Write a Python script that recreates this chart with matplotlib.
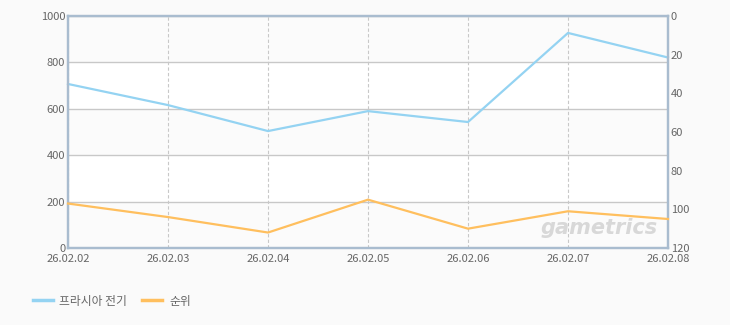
import matplotlib
matplotlib.use("Agg")
import matplotlib.pyplot as plt
from matplotlib.lines import Line2D

plt.rcParams['font.family'] = ['Noto Sans CJK KR', 'DejaVu Sans']

dates = ["26.02.02", "26.02.03", "26.02.04", "26.02.05", "26.02.06", "26.02.07", "26.02.08"]
power = [707, 616, 504, 590, 543, 927, 821]
rank = [97, 104, 112, 95, 110, 101, 105]
series_names = ["프라시아 전기", "순위"]

blue = "#94d3f2"
orange = "#ffbf5e"
spine_c = "#a9bccf"
text_c = "#666666"

fig = plt.figure(figsize=(7.3, 3.25), dpi=100, facecolor="#fafafa")
ax = fig.add_axes([68/730, 1-248/325, 600/730, 232/325])
ax.set_facecolor("#fbfbfb")
x = list(range(len(dates)))

# alternating bands
for lo in (200, 600):
    ax.axhspan(lo, lo + 200, color="white", zorder=0)

ax.set_xlim(0, len(dates) - 1)
ax.set_ylim(0, 1000)
ax.set_yticks([0, 200, 400, 600, 800, 1000])
ax.set_xticks(x)
ax.set_xticklabels(dates)
ax.grid(axis="y", color="#c8c8c8", linewidth=1, linestyle="-", zorder=1)
ax.grid(axis="x", color="#c8c8c8", linewidth=0.8, linestyle=(0, (3, 2)), zorder=1)
ax.tick_params(length=0, labelsize=8, colors=text_c, pad=2)
ax.tick_params(axis="x", pad=4)
for s in ax.spines.values():
    s.set_color(spine_c)
    s.set_linewidth(1.6)

ax.plot(x, power, color=blue, linewidth=1.6, zorder=3, clip_on=False)

ax2 = ax.twinx()
ax2.set_ylim(120, 0)
ax2.set_yticks([0, 20, 40, 60, 80, 100, 120])
ax2.tick_params(length=0, labelsize=8, colors=text_c, pad=2)
for s in ax2.spines.values():
    s.set_color(spine_c)
    s.set_linewidth(1.6)
ax2.plot(x, rank, color=orange, linewidth=1.6, zorder=3, clip_on=False)

ax2.text(0.983, 0.045, "gametrics", transform=ax2.transAxes, ha="right", va="bottom",
         fontsize=15, fontstyle="italic", fontweight="bold", color="#d2d2d2",
         family=["DejaVu Sans"], alpha=0.85, zorder=0)

handles = [Line2D([], [], color=blue, linewidth=2.5),
           Line2D([], [], color=orange, linewidth=2.5)]
fig.legend(handles, series_names, loc="center left", bbox_to_anchor=(22/730, 1-301/325),
           ncol=2, frameon=False, fontsize=8.5, labelcolor=text_c,
           handlelength=1.7, handletextpad=0.55, columnspacing=1.3)

fig.savefig("out.png", dpi=100, facecolor=fig.get_facecolor())
